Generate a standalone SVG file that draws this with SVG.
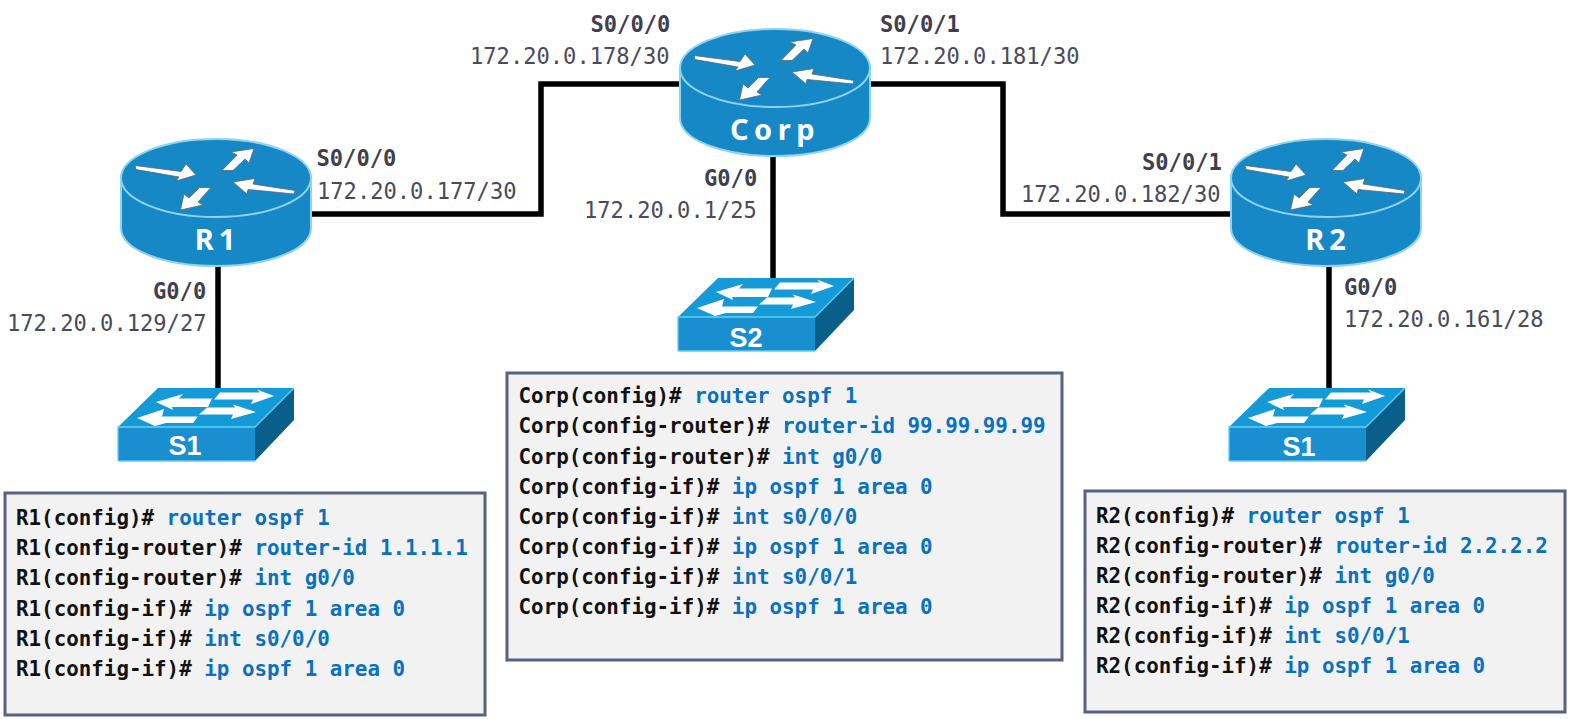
<svg xmlns="http://www.w3.org/2000/svg" width="1571" height="719" viewBox="0 0 1571 719">
<style>
text{font-family:"DejaVu Sans Mono","Liberation Mono",monospace}
.lb{font-size:22.1px;font-weight:bold;fill:#3f3f4f}
.ip{font-size:22.1px;fill:#4a4a5a}
.c{font-size:20.85px;font-weight:bold;fill:#111}
.c tspan{fill:#0a70c0}
.box{fill:#f2f2f2;stroke:#5a6080;stroke-width:3}
.w{fill:none;stroke:#000;stroke-width:5.5}
.nm{font-family:"Noto Sans","Liberation Sans",sans-serif;font-weight:bold;font-size:29px;fill:#fff;text-anchor:middle}
.sw{font-family:"Liberation Sans","Noto Sans",sans-serif;font-weight:bold;font-size:27px;fill:#fff;text-anchor:middle}
.arr{fill:#fff;stroke:#5a6670;stroke-width:.8}
</style>
<defs>
<g id="router">
<path d="M121 176 V228 C121 250 164 266 216 266 S311 250 311 228 V176 Z" fill="#1688c6" stroke="#8fd3ee" stroke-width="2"/>
<ellipse cx="216" cy="178" rx="95" ry="39" fill="#1688c6" stroke="#8fd3ee" stroke-width="2"/>
<path class="arr" d="M135 165.5 L181 171.5 L186 164 L196 175 L176 181 L179 177 L136 169.5Z"/>
<path class="arr" d="M222 170.5 L237 155 L231 152 L254 148.5 L249 163 L245 159 L233 170.5Z"/>
<path class="arr" d="M295 190.5 L253 184 L255 178.5 L233 182 L247 194 L248 189.5 L294 194Z"/>
<path class="arr" d="M211 187.5 L198 202 L203 205 L180.500 210 L184 194 L189 198 L199.500 187.500Z"/>
</g>
<g id="switch">
<path d="M255 427 L294 388 V420 L255 461Z" fill="#0a5f8a"/>
<path d="M118 427 L158 388 H294 L255 427Z" fill="#159ad8"/>
<rect x="118" y="427" width="137" height="34" fill="#1a8fcf"/>
<path d="M118 461 V427 H255 L294 388 M118 461 H255" fill="none" stroke="#5fd0f4" stroke-width="1.3"/>
<path fill="#fff" d="M156 402 L183 394 L179 398.500 H212 L208 407 H172 L173 410Z"/>
<path fill="#fff" d="M220 392.500 H260 L257 389.500 L274 396 L251 404 L253 399.500 H214Z"/>
<path fill="#fff" d="M137 418 L164 409 L162 416.500 H198 L193 423 H166 L155 426Z"/>
<path fill="#fff" d="M207 407.500 H235 L233 404.500 L256 412 L231 419 L233 414.500 H199Z"/>
</g>
</defs>
<g id="connectors">
<path class="w" d="M311 214 H541 V84 H680"/>
<path class="w" d="M869 84 H1003 V214 H1231"/>
<path class="w" d="M773 156 V278"/>
<path class="w" d="M218 266 V388"/>
<path class="w" d="M1329 266 V388"/>
</g>
<g id="R1"><use href="#router"/><text class="nm" x="217.500" y="250" letter-spacing="5">R1</text></g>
<g id="Corp"><use href="#router" x="559" y="-110"/><text class="nm" x="775" y="140" letter-spacing="5.500">Corp</text></g>
<g id="R2"><use href="#router" x="1110"/><text class="nm" x="1328" y="250" letter-spacing="5">R2</text></g>
<g id="S1-left"><use href="#switch"/><text class="sw" x="185" y="455">S1</text></g>
<g id="S2"><use href="#switch" x="560" y="-110"/><text class="sw" x="746" y="347">S2</text></g>
<g id="S1-right"><use href="#switch" x="1111"/><text class="sw" x="1299" y="456">S1</text></g>
<g id="labels">
<text class="lb" x="316.500" y="166">S0/0/0</text><text class="ip" x="317" y="199">172.20.0.177/30</text>
<text class="lb" x="153" y="299">G0/0</text><text class="ip" x="7" y="331">172.20.0.129/27</text>
<text class="lb" x="590.500" y="31.500">S0/0/0</text><text class="ip" x="470" y="64">172.20.0.178/30</text>
<text class="lb" x="880" y="31.500">S0/0/1</text><text class="ip" x="880" y="64">172.20.0.181/30</text>
<text class="lb" x="704" y="186">G0/0</text><text class="ip" x="584" y="218">172.20.0.1/25</text>
<text class="lb" x="1142" y="170">S0/0/1</text><text class="ip" x="1021" y="202">172.20.0.182/30</text>
<text class="lb" x="1344" y="295">G0/0</text><text class="ip" x="1344" y="327">172.20.0.161/28</text>
</g>
<g id="config-R1">
<rect class="box" x="5" y="493" width="480" height="222"/>
<text class="c" x="16" y="525">R1(config)# <tspan>router ospf 1</tspan></text>
<text class="c" x="16" y="555">R1(config-router)# <tspan>router-id 1.1.1.1</tspan></text>
<text class="c" x="16" y="585">R1(config-router)# <tspan>int g0/0</tspan></text>
<text class="c" x="16" y="616">R1(config-if)# <tspan>ip ospf 1 area 0</tspan></text>
<text class="c" x="16" y="646">R1(config-if)# <tspan>int s0/0/0</tspan></text>
<text class="c" x="16" y="676">R1(config-if)# <tspan>ip ospf 1 area 0</tspan></text>
</g>
<g id="config-Corp">
<rect class="box" x="507" y="373" width="555" height="287"/>
<text class="c" x="518.500" y="403">Corp(config)# <tspan>router ospf 1</tspan></text>
<text class="c" x="518.500" y="433">Corp(config-router)# <tspan>router-id 99.99.99.99</tspan></text>
<text class="c" x="518.500" y="464">Corp(config-router)# <tspan>int g0/0</tspan></text>
<text class="c" x="518.500" y="494">Corp(config-if)# <tspan>ip ospf 1 area 0</tspan></text>
<text class="c" x="518.500" y="524">Corp(config-if)# <tspan>int s0/0/0</tspan></text>
<text class="c" x="518.500" y="554">Corp(config-if)# <tspan>ip ospf 1 area 0</tspan></text>
<text class="c" x="518.500" y="584">Corp(config-if)# <tspan>int s0/0/1</tspan></text>
<text class="c" x="518.500" y="614">Corp(config-if)# <tspan>ip ospf 1 area 0</tspan></text>
</g>
<g id="config-R2">
<rect class="box" x="1085" y="491" width="480" height="221"/>
<text class="c" x="1096" y="523">R2(config)# <tspan>router ospf 1</tspan></text>
<text class="c" x="1096" y="553">R2(config-router)# <tspan>router-id 2.2.2.2</tspan></text>
<text class="c" x="1096" y="583">R2(config-router)# <tspan>int g0/0</tspan></text>
<text class="c" x="1096" y="613">R2(config-if)# <tspan>ip ospf 1 area 0</tspan></text>
<text class="c" x="1096" y="643">R2(config-if)# <tspan>int s0/0/1</tspan></text>
<text class="c" x="1096" y="673">R2(config-if)# <tspan>ip ospf 1 area 0</tspan></text>
</g>
</svg>
